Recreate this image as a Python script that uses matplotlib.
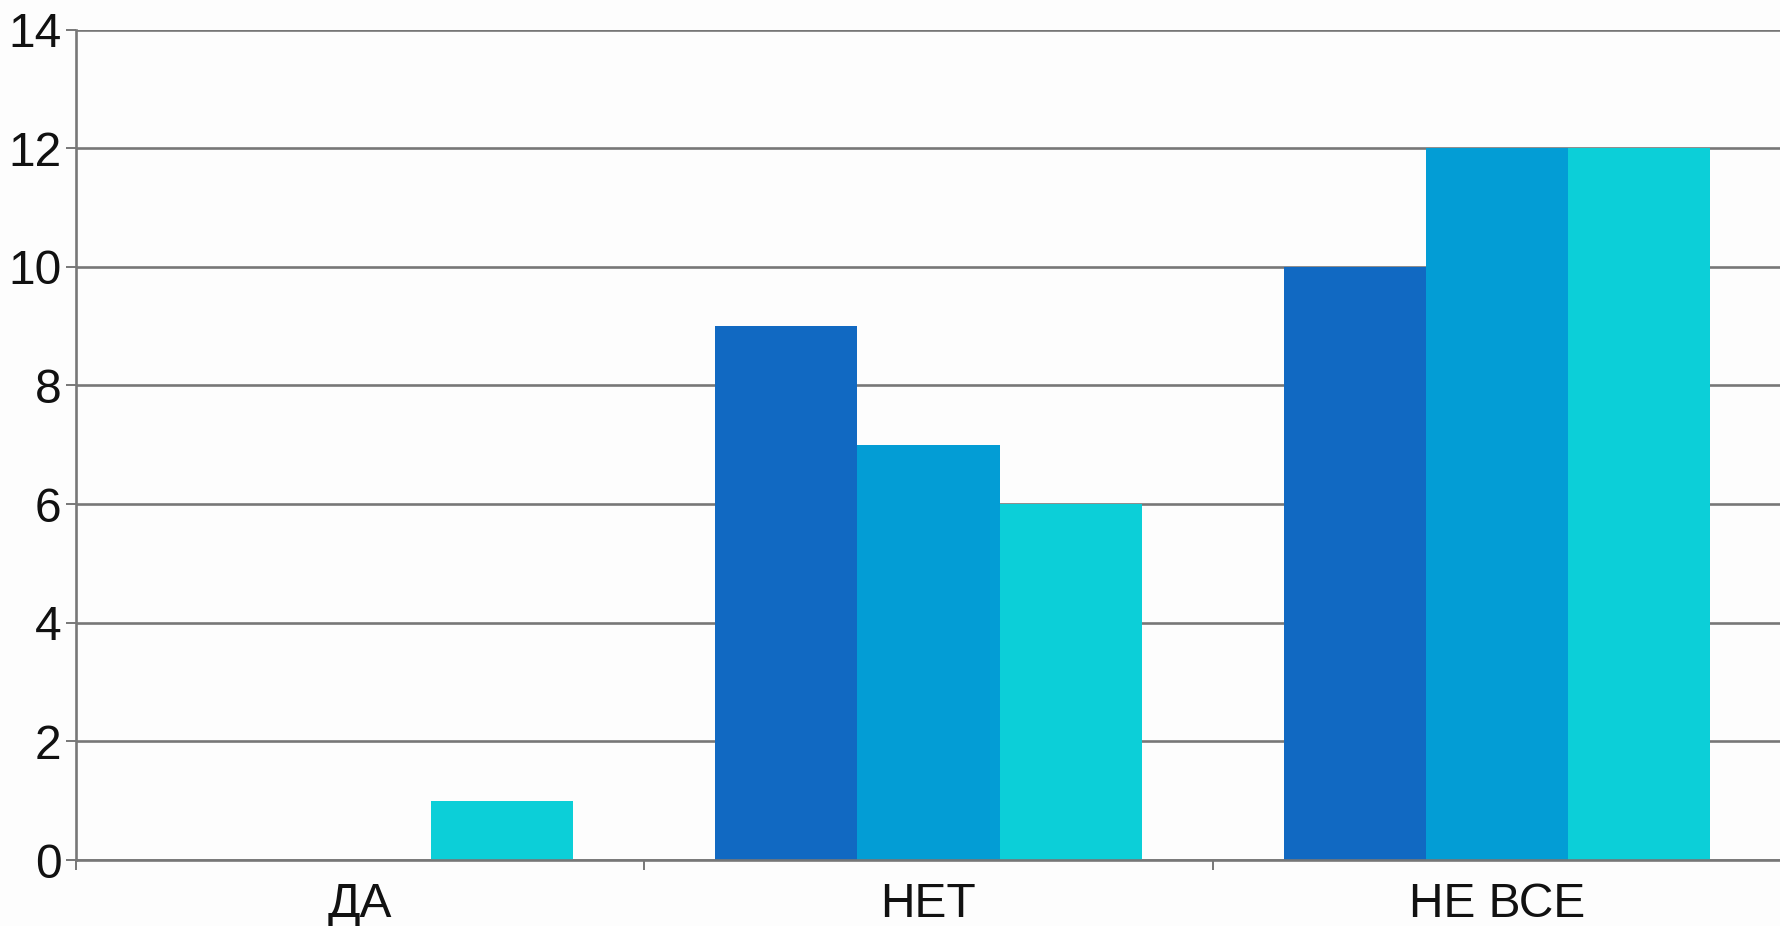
import matplotlib
matplotlib.use("Agg")
import matplotlib.pyplot as plt
import numpy as np

categories = ["ДА", "НЕТ", "НЕ ВСЕ"]
series_1 = [0, 9, 10]
series_2 = [0, 7, 12]
series_3 = [1, 6, 12]
y_ticks = [0, 2, 4, 6, 8, 10, 12, 14]

colors = ["#1169C2", "#039DD5", "#0CCFD8"]
grid_color = "#777777"

plt.rcParams["font.family"] = ["Liberation Sans", "DejaVu Sans"]

fig = plt.figure(figsize=(17.81, 9.26), dpi=100)
fig.patch.set_facecolor("#FDFDFD")
ax = fig.add_axes([76 / 1781, 1 - 860 / 926, 1 - 76 / 1781, (860 - 29.5) / 926])
ax.set_facecolor("#FDFDFD")

x = np.arange(len(categories))
width = 0.25
for i, (vals, c) in enumerate(zip([series_1, series_2, series_3], colors)):
    ax.bar(x + (i - 1) * width, vals, width, color=c, edgecolor="none", zorder=3)

ax.set_xlim(-0.5, len(categories) - 0.5)
ax.set_ylim(0, 14)
ax.set_yticks(y_ticks)
ax.set_xticks(x)
ax.set_xticklabels(categories)
ax.set_xticks(np.arange(-0.5, len(categories)), minor=True)

ax.yaxis.grid(True, color=grid_color, linewidth=1.9, zorder=1)
for side in ("top", "right"):
    ax.spines[side].set_visible(False)
for side in ("left", "bottom"):
    ax.spines[side].set_color(grid_color)
    ax.spines[side].set_linewidth(1.9)
    ax.spines[side].set_zorder(4)

ax.tick_params(axis="y", direction="out", length=7.5, width=1.4, color=grid_color,
               labelsize=34.5, pad=3, labelcolor="#111111")
ax.tick_params(axis="x", which="major", length=0, labelsize=34.5, pad=16, labelcolor="#111111")
ax.tick_params(axis="x", which="minor", direction="out", length=7.5, width=1.4, color=grid_color)

fig.savefig("out.png", dpi=100, facecolor=fig.get_facecolor())
